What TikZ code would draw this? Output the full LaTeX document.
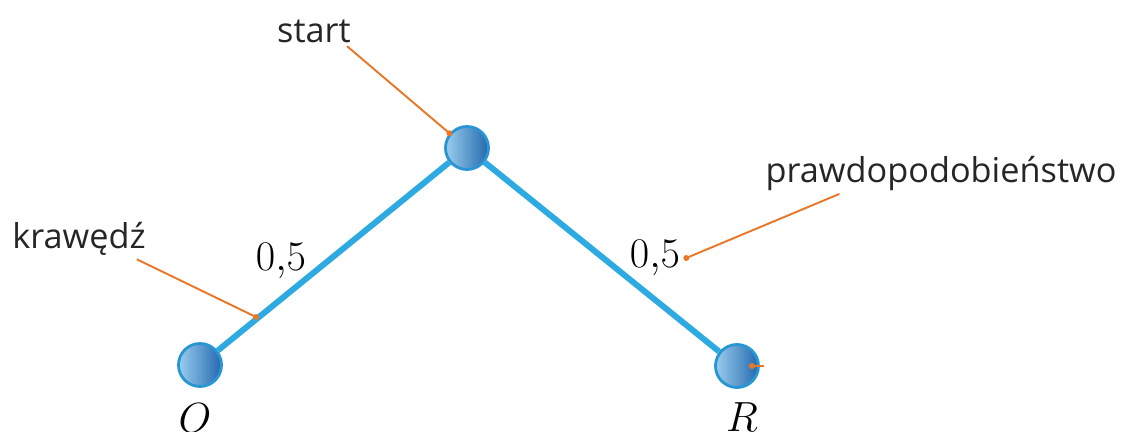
\RequirePackage{fix-cm}
\documentclass[tikz,border=0pt]{standalone}
\usepackage{fontspec}
\newfontfamily\labelfont{Open Sans}
\usepackage{tikz}
\usetikzlibrary{positioning,calc}

\definecolor{edgeblue}{RGB}{45,170,225}
\definecolor{ballborder}{RGB}{40,150,210}
\definecolor{balllight}{RGB}{155,205,238}
\definecolor{balldark}{RGB}{35,105,175}
\definecolor{leadorange}{RGB}{232,120,40}

\tikzset{
  ball/.style={circle, draw=ballborder, line width=1.6pt, minimum size=0.86cm,
    inner sep=0pt, left color=balllight, right color=balldark},
  link/.style={edgeblue, line width=3.4pt},
  prob/.style={font=\fontsize{24}{28}\selectfont},
  tagtext/.style={font=\labelfont\fontsize{19.5}{23}\selectfont, text=black!85},
  leader/.style={leadorange, line width=1.1pt},
  leaddot/.style={circle, fill=leadorange, inner sep=0pt, minimum size=3.4pt}
}

\begin{document}
\begin{tikzpicture}
  \useasboundingbox (0,0) rectangle (22.52,8.64);

  % Define coordinates for nodes
  \node[ball] (S) at (9.34, 5.68) {};
  \node[ball] (O) at (4.00, 1.34) {};
  \node[ball] (R) at (14.74, 1.32) {};
  \node[prob] (Olab) at (3.90, 0.27) {$O$};
  \node[prob] (Rlab) at (14.84, 0.30) {$R$};
  \node[prob] (p1) at (5.62, 3.42) {$0{,}5$};
  \node[prob] (p2) at (13.10, 3.48) {$0{,}5$};
  \node[tagtext] (tstart) at (6.28, 8.02) {start};
  \node[tagtext] (tedge) at (1.58, 3.86) {krawędź};
  \node[tagtext] (tprob) at (18.82, 5.18) {prawdopodobieństwo};
  \coordinate (e1) at (5.12, 2.30);
  \coordinate (rdot) at (15.28, 1.32);

  % Draw edges between nodes
  \draw[link] (O) -- (S);
  \draw[link] (S) -- (R);

  % Draw leader lines
  \draw[leader] (tstart.south east) ++(-0.2,0.05) -- (S.140) node[leaddot] {};
  \draw[leader] (tedge.south east) ++(-0.3,0.05) -- (e1) node[leaddot] {};
  \draw[leader] (tprob.south west) ++(1.6,0.05) -- (p2.east) node[leaddot] {};
  \draw[leader] (R.center) ++(0.3,0) -- (rdot) node[leaddot, pos=0] {};
\end{tikzpicture}
\end{document}
